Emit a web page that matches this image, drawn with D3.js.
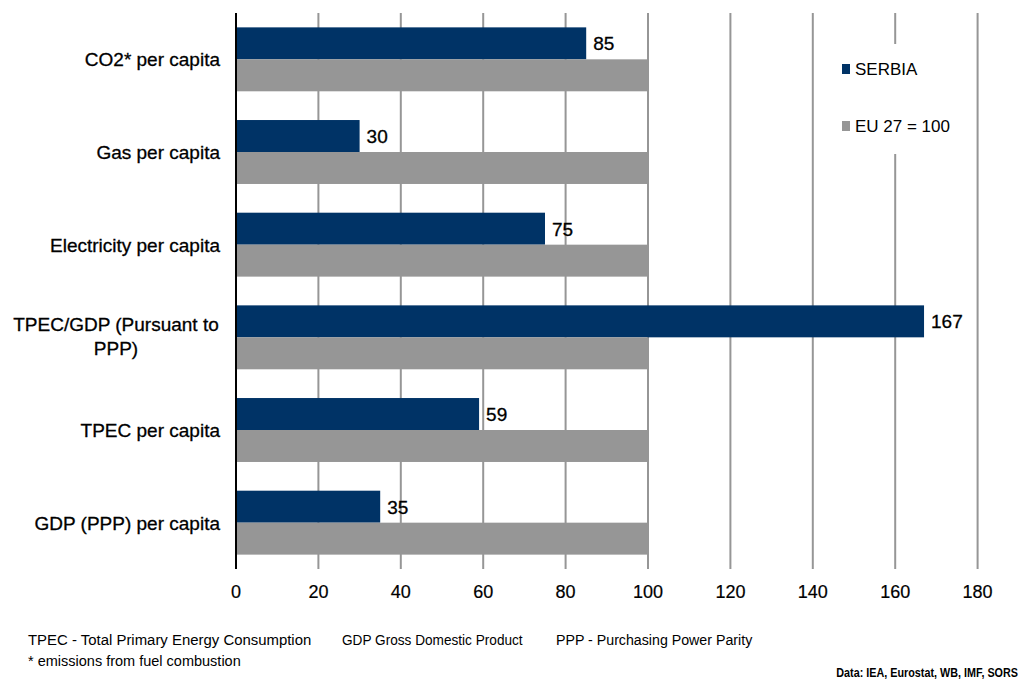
<!DOCTYPE html>
<html><head><meta charset="utf-8">
<script src="https://cdn.jsdelivr.net/npm/d3@7"></script>
<style>body{margin:0;background:#fff;} svg{display:block;}</style>
</head><body>
<svg id="c" width="1023" height="684"></svg>
<script>
const categories = ["CO2* per capita","Gas per capita","Electricity per capita","TPEC/GDP (Pursuant to|PPP)","TPEC per capita","GDP (PPP) per capita"];
const serbia = [85,30,75,167,59,35];
const eu = [100,100,100,100,100,100];
const ticks = [0,20,40,60,80,100,120,140,160,180];
const seriesNames = ["SERBIA","EU 27 = 100"];
const colors = ["#003366","#969696"];

const FONT = "Liberation Sans, Arial, sans-serif";
const svg = d3.select("#c");
const x = d3.scaleLinear().domain([0,180]).range([236,977.6]);
const y = d3.scaleBand().domain(categories).range([13,569]).paddingInner(0.31).paddingOuter(0.155);
const sub = d3.scaleBand().domain([0,1]).range([0,y.bandwidth()]);

// gridlines
svg.append("g").selectAll("line").data(ticks.slice(1)).join("line")
  .attr("x1",d=>x(d)).attr("x2",d=>x(d)).attr("y1",13).attr("y2",569)
  .attr("stroke","#969696").attr("stroke-width",2);

// legend background
svg.append("rect").attr("x",815).attr("y",44).attr("width",160).attr("height",110).attr("fill","#fff");

// bars
const g = svg.append("g");
categories.forEach((c,i)=>{
  [serbia[i],eu[i]].forEach((v,j)=>{
    g.append("rect").attr("x",x(0)).attr("y",y(c)+sub(j)).attr("width",x(v)-x(0)).attr("height",sub.bandwidth())
      .attr("fill",colors[j]);
  });
  g.append("text").attr("x",x(serbia[i])+7).attr("y",y(c)+sub(0)+sub.bandwidth()/2)
    .attr("dy","0.36em").attr("font-family",FONT).attr("font-size",19)
    .attr("fill","#000").attr("stroke","#000").attr("stroke-width",0.3).text(serbia[i]);
});

// axis line
svg.append("line").attr("x1",x(0)).attr("x2",x(0)).attr("y1",13).attr("y2",569).attr("stroke","#000").attr("stroke-width",2);

// x tick labels
svg.append("g").selectAll("text").data(ticks).join("text")
  .attr("x",d=>x(d)).attr("y",598).attr("text-anchor","middle")
  .attr("font-family",FONT).attr("font-size",18).attr("fill","#000").attr("stroke","#000").attr("stroke-width",0.2).text(d=>d);

// category labels
categories.forEach(c=>{
  const lines = c.split("|");
  const cy = y(c)+y.bandwidth()/2;
  if(lines.length===1){
    svg.append("text").attr("x",220).attr("y",cy).attr("dy","0.36em").attr("text-anchor","end")
      .attr("font-family",FONT).attr("font-size",19).attr("fill","#000").attr("stroke","#000").attr("stroke-width",0.3).text(c);
  } else {
    const t = svg.append("text").attr("text-anchor","middle")
      .attr("font-family",FONT).attr("font-size",19).attr("fill","#000").attr("stroke","#000").attr("stroke-width",0.3);
    lines.forEach((l,k)=>{
      t.append("tspan").attr("x",116).attr("y",cy+(k-(lines.length-1)/2)*24 - 1).attr("dy","0.36em").text(l);
    });
  }
});

// legend
seriesNames.forEach((n,i)=>{
  const ly = 69 + i*57;
  svg.append("rect").attr("x",842).attr("y",ly-5).attr("width",8).attr("height",10).attr("fill",colors[i]);
  svg.append("text").attr("x",855).attr("y",ly).attr("dy","0.36em")
    .attr("font-family",FONT).attr("font-size",17).attr("fill","#000").text(n);
});

// footnotes
function foot(txt,xx,yy,sx){
  svg.append("text").attr("transform",`translate(${xx},${yy}) scale(${sx},1)`).attr("font-family",FONT).attr("font-size",14.5)
    .attr("fill","#000").text(txt);
}
foot("TPEC - Total Primary Energy Consumption",28,645,1.03);
foot("GDP Gross Domestic Product",342,645,0.94);
foot("PPP - Purchasing Power Parity",556,645,0.98);
foot("* emissions from fuel combustion",28,666,1.0);
svg.append("text").attr("transform","translate(1018,677) scale(0.8,1)").attr("text-anchor","end")
  .attr("font-family",FONT).attr("font-size",13.5).attr("font-weight","bold")
  .text("Data: IEA, Eurostat, WB, IMF, SORS");
</script>
</body></html>
